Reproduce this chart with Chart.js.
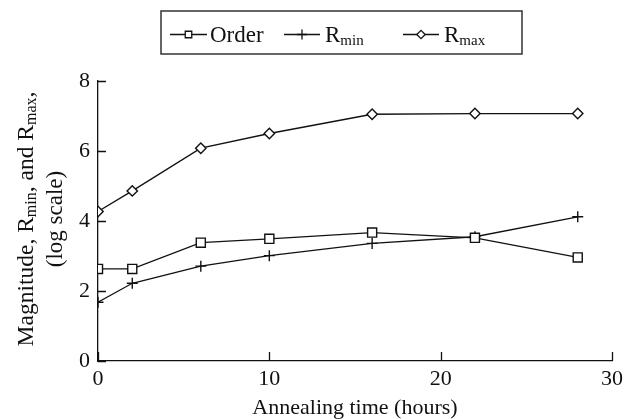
<!DOCTYPE html>
<html>
<head>
<meta charset="utf-8">
<script src="https://cdn.jsdelivr.net/npm/chart.js@4.4.1/dist/chart.umd.min.js"></script>
<style>
  html, body { margin: 0; padding: 0; background: #fff; }
  #wrap { width: 628px; height: 419px; }
</style>
</head>
<body>
<div id="wrap"><canvas id="chart" width="628" height="419"></canvas></div>
<script>
const SERIF = "'Liberation Serif', 'Times New Roman', serif";
const INK = '#111';

// annealing times (hours)
const hours = [0, 2, 6, 10, 16, 22, 28];
// log-scale magnitudes
const orderVals = [2.63, 2.63, 3.38, 3.49, 3.67, 3.52, 2.96];
const rminVals = [1.68, 2.22, 2.71, 3.01, 3.36, 3.55, 4.12];
const rmaxVals = [4.27, 4.86, 6.08, 6.5, 7.05, 7.07, 7.07];
const xTicks = [0, 10, 20, 30];
const yTicks = [0, 2, 4, 6, 8];

function pts(vals) {
  return hours.map((h, i) => ({ x: h, y: vals[i] }));
}

function series(label, vals, style, radius) {
  return {
    label: label,
    data: pts(vals),
    borderColor: INK,
    backgroundColor: '#fff',
    borderWidth: 1.3,
    pointStyle: style,
    pointRadius: radius,
    pointHoverRadius: radius,
    pointBorderColor: INK,
    pointBackgroundColor: '#fff',
    pointBorderWidth: 1.4,
    tension: 0,
    fill: false
  };
}

// text with a subscript part, e.g. R + "min"
function subParts(ctx, parts, x, y, align) {
  let total = 0;
  parts.forEach(p => {
    ctx.font = p.size + 'px ' + SERIF;
    total += ctx.measureText(p.t).width;
  });
  let cx = align === 'center' ? x - total / 2 : x;
  ctx.textAlign = 'left';
  ctx.textBaseline = 'alphabetic';
  parts.forEach(p => {
    ctx.font = p.size + 'px ' + SERIF;
    ctx.fillText(p.t, cx, y + (p.dy || 0));
    cx += ctx.measureText(p.t).width;
  });
  return total;
}

const extras = {
  id: 'extras',
  afterDraw(chart) {
    const ctx = chart.ctx;
    const xs = chart.scales.x;
    const ys = chart.scales.y;
    const area = chart.chartArea;
    ctx.save();
    ctx.strokeStyle = INK;
    ctx.fillStyle = INK;
    ctx.lineWidth = 1.3;

    // inward tick marks
    ctx.beginPath();
    yTicks.forEach(v => {
      const py = Math.round(ys.getPixelForValue(v)) + 0.5;
      ctx.moveTo(area.left, py);
      ctx.lineTo(area.left + 8, py);
    });
    xTicks.forEach(v => {
      const px = Math.round(xs.getPixelForValue(v)) + 0.5;
      ctx.moveTo(px, area.bottom);
      ctx.lineTo(px, area.bottom - 9);
    });
    ctx.stroke();

    // y axis title, two rotated lines
    const cy = (area.top + area.bottom) / 2 - 2;
    ctx.save();
    ctx.translate(33, cy);
    ctx.rotate(-Math.PI / 2);
    subParts(ctx, [
      { t: 'Magnitude, R', size: 23.5 },
      { t: 'min', size: 16, dy: 3 },
      { t: ', and R', size: 23.5 },
      { t: 'max', size: 16, dy: 3 },
      { t: ',', size: 23.5 }
    ], 0, 0, 'center');
    ctx.restore();
    ctx.save();
    ctx.translate(62, cy);
    ctx.rotate(-Math.PI / 2);
    subParts(ctx, [{ t: '(log scale)', size: 23 }], 0, 0, 'center');
    ctx.restore();

    // legend box
    ctx.lineWidth = 1.5;
    ctx.strokeStyle = '#333';
    ctx.strokeRect(161, 11, 361, 43);

    const ly = 34;
    const items = [
      { ds: 0, r: 4.6, x0: 170, x1: 207, tx: 210, parts: [{ t: 'Order', size: 23 }] },
      { ds: 1, r: 5, x0: 284, x1: 320, tx: 325, parts: [{ t: 'R', size: 23 }, { t: 'min', size: 15, dy: 3 }] },
      { ds: 2, r: 4.2, x0: 403, x1: 439, tx: 444, parts: [{ t: 'R', size: 23 }, { t: 'max', size: 15, dy: 3 }] }
    ];
    items.forEach(it => {
      const ds = chart.data.datasets[it.ds];
      ctx.strokeStyle = INK;
      ctx.lineWidth = 1.3;
      ctx.beginPath();
      ctx.moveTo(it.x0, ly + 0.5);
      ctx.lineTo(it.x1, ly + 0.5);
      ctx.stroke();
      ctx.fillStyle = '#fff';
      ctx.lineWidth = 1.3;
      Chart.helpers.drawPoint(ctx, {
        pointStyle: ds.pointStyle,
        radius: it.r,
        borderWidth: 1.3
      }, (it.x0 + it.x1) / 2, ly + 0.5);
      ctx.fillStyle = INK;
      subParts(ctx, it.parts, it.tx, ly + 8, 'left');
    });
    ctx.restore();
  }
};

new Chart(document.getElementById('chart'), {
  type: 'line',
  data: {
    datasets: [
      series('Order', orderVals, 'rect', 6.4),
      series('Rmin', rminVals, 'cross', 5.5),
      series('Rmax', rmaxVals, 'rectRot', 5.2)
    ]
  },
  options: {
    responsive: false,
    animation: false,
    devicePixelRatio: 1,
    layout: { padding: { top: 81, right: 16, left: 0, bottom: 0 } },
    plugins: {
      legend: { display: false },
      tooltip: { enabled: false }
    },
    scales: {
      x: {
        type: 'linear',
        min: 0,
        max: 30,
        afterFit: s => { s.height = 58; },
        afterBuildTicks: s => { s.ticks = xTicks.map(v => ({ value: v })); },
        grid: { display: false, drawTicks: false },
        border: { display: true, color: INK, width: 1.3 },
        ticks: { color: INK, font: { family: SERIF, size: 22 }, padding: 5, maxRotation: 0 },
        title: {
          display: true,
          text: 'Annealing time (hours)',
          color: INK,
          font: { family: SERIF, size: 22 },
          padding: { top: 0, bottom: -2 }
        }
      },
      y: {
        type: 'linear',
        min: 0,
        max: 8,
        afterFit: s => { s.width = 98; },
        afterBuildTicks: s => { s.ticks = yTicks.map(v => ({ value: v })); },
        grid: { display: false, drawTicks: false },
        border: { display: true, color: INK, width: 1.3 },
        ticks: { color: INK, font: { family: SERIF, size: 22 }, padding: 8 }
      }
    }
  },
  plugins: [extras]
});
</script>
</body>
</html>
